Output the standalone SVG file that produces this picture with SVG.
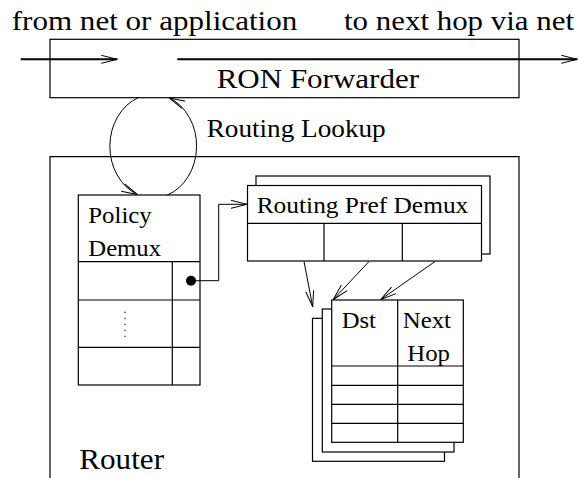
<svg xmlns="http://www.w3.org/2000/svg" width="579" height="478" viewBox="0 0 579 478">
<style>
.box{fill:#fff;stroke:#000;stroke-width:1.2}
.ln{fill:none;stroke:#000;stroke-width:1.2}
.thin{fill:none;stroke:#000;stroke-width:1}
.thick{fill:none;stroke:#000;stroke-width:2}
</style>
<defs>
<marker id="ah" markerWidth="17" markerHeight="10" refX="16" refY="5" orient="auto" markerUnits="userSpaceOnUse">
<path d="M0,1 L16,5 L0,9" fill="none" stroke="#000" stroke-width="1"/>
</marker>
</defs>
<rect width="579" height="478" fill="#fff"/>
<g font-family="Liberation Serif, Times New Roman, serif" fill="#000">
<g id="labels">
<text x="11.7" y="30" font-size="28" textLength="285.6" lengthAdjust="spacingAndGlyphs">from net or application</text>
<text x="344" y="30" font-size="28" textLength="230" lengthAdjust="spacingAndGlyphs">to next hop via net</text>
<text x="206.7" y="136.7" font-size="25" textLength="179" lengthAdjust="spacingAndGlyphs">Routing Lookup</text>
</g>
<g id="router">
<path class="ln" d="M50,478 V156.7 H519 V478"/>
<text x="79.3" y="469.3" font-size="29" textLength="84.7" lengthAdjust="spacingAndGlyphs">Router</text>
</g>
<g id="ron-forwarder">
<rect class="box" x="50" y="39.3" width="469" height="58.4"/>
<text x="216.7" y="88.3" font-size="28" textLength="202.3" lengthAdjust="spacingAndGlyphs">RON Forwarder</text>
</g>
<g id="policy-demux">
<rect class="box" x="78.3" y="195" width="121.7" height="190"/>
<path class="ln" d="M78.3,261.7 H200 M78.3,300 H200 M78.3,347.3 H200 M172.3,261.7 V385"/>
<path d="M125,311.7 V337" fill="none" stroke="#000" stroke-width="1" stroke-dasharray="1.5 4.5"/>
<circle cx="191" cy="280.7" r="5"/>
<text x="88.3" y="223.3" font-size="24" textLength="63.4" lengthAdjust="spacingAndGlyphs">Policy</text>
<text x="88.3" y="256" font-size="24" textLength="72.7" lengthAdjust="spacingAndGlyphs">Demux</text>
</g>
<g id="routing-pref-demux">
<rect class="box" x="256" y="176" width="234" height="78"/>
<rect class="box" x="247.5" y="185.5" width="234" height="75.5"/>
<path class="ln" d="M247.5,223.3 H481.5 M324,223.3 V261 M402.3,223.3 V261"/>
<text x="256.7" y="213.3" font-size="24" textLength="211.6" lengthAdjust="spacingAndGlyphs">Routing Pref Demux</text>
</g>
<g id="dst-table">
<rect class="box" x="312.5" y="318.3" width="132" height="143"/>
<rect class="box" x="322.3" y="309" width="131.7" height="143"/>
<rect class="box" x="331.7" y="300" width="131.6" height="142.3"/>
<path class="ln" d="M331.7,366 H463.3 M331.7,385.3 H463.3 M331.7,404.3 H463.3 M331.7,423.3 H463.3 M397.7,300 V442.3"/>
<text x="341.7" y="327.7" font-size="24" textLength="34.3" lengthAdjust="spacingAndGlyphs">Dst</text>
<text x="402.7" y="327.7" font-size="24" textLength="48.3" lengthAdjust="spacingAndGlyphs">Next</text>
<text x="407.3" y="361" font-size="24" textLength="42.7" lengthAdjust="spacingAndGlyphs">Hop</text>
</g>
</g>
<g id="connectors">
<path class="thick" d="M20.7,59.3 H117.3" marker-end="url(#ah)"/>
<path class="thick" d="M177.3,59.3 H577.3" marker-end="url(#ah)"/>
<path class="thin" d="M138.3,97.7 A44,52 0 0 0 137.3,194.5" marker-end="url(#ah)"/>
<path class="thin" d="M167.3,195 A44,52 0 0 0 169.3,97.9" marker-end="url(#ah)"/>
<path class="thin" d="M191,280.7 H218.7 V204.3 H247" marker-end="url(#ah)"/>
<path class="thin" d="M304,261.5 L312.7,306.7" marker-end="url(#ah)"/>
<path class="thin" d="M369,261.5 L333.3,299.5" marker-end="url(#ah)"/>
<path class="thin" d="M435,261.5 L380.7,299.5" marker-end="url(#ah)"/>
</g>
</svg>
